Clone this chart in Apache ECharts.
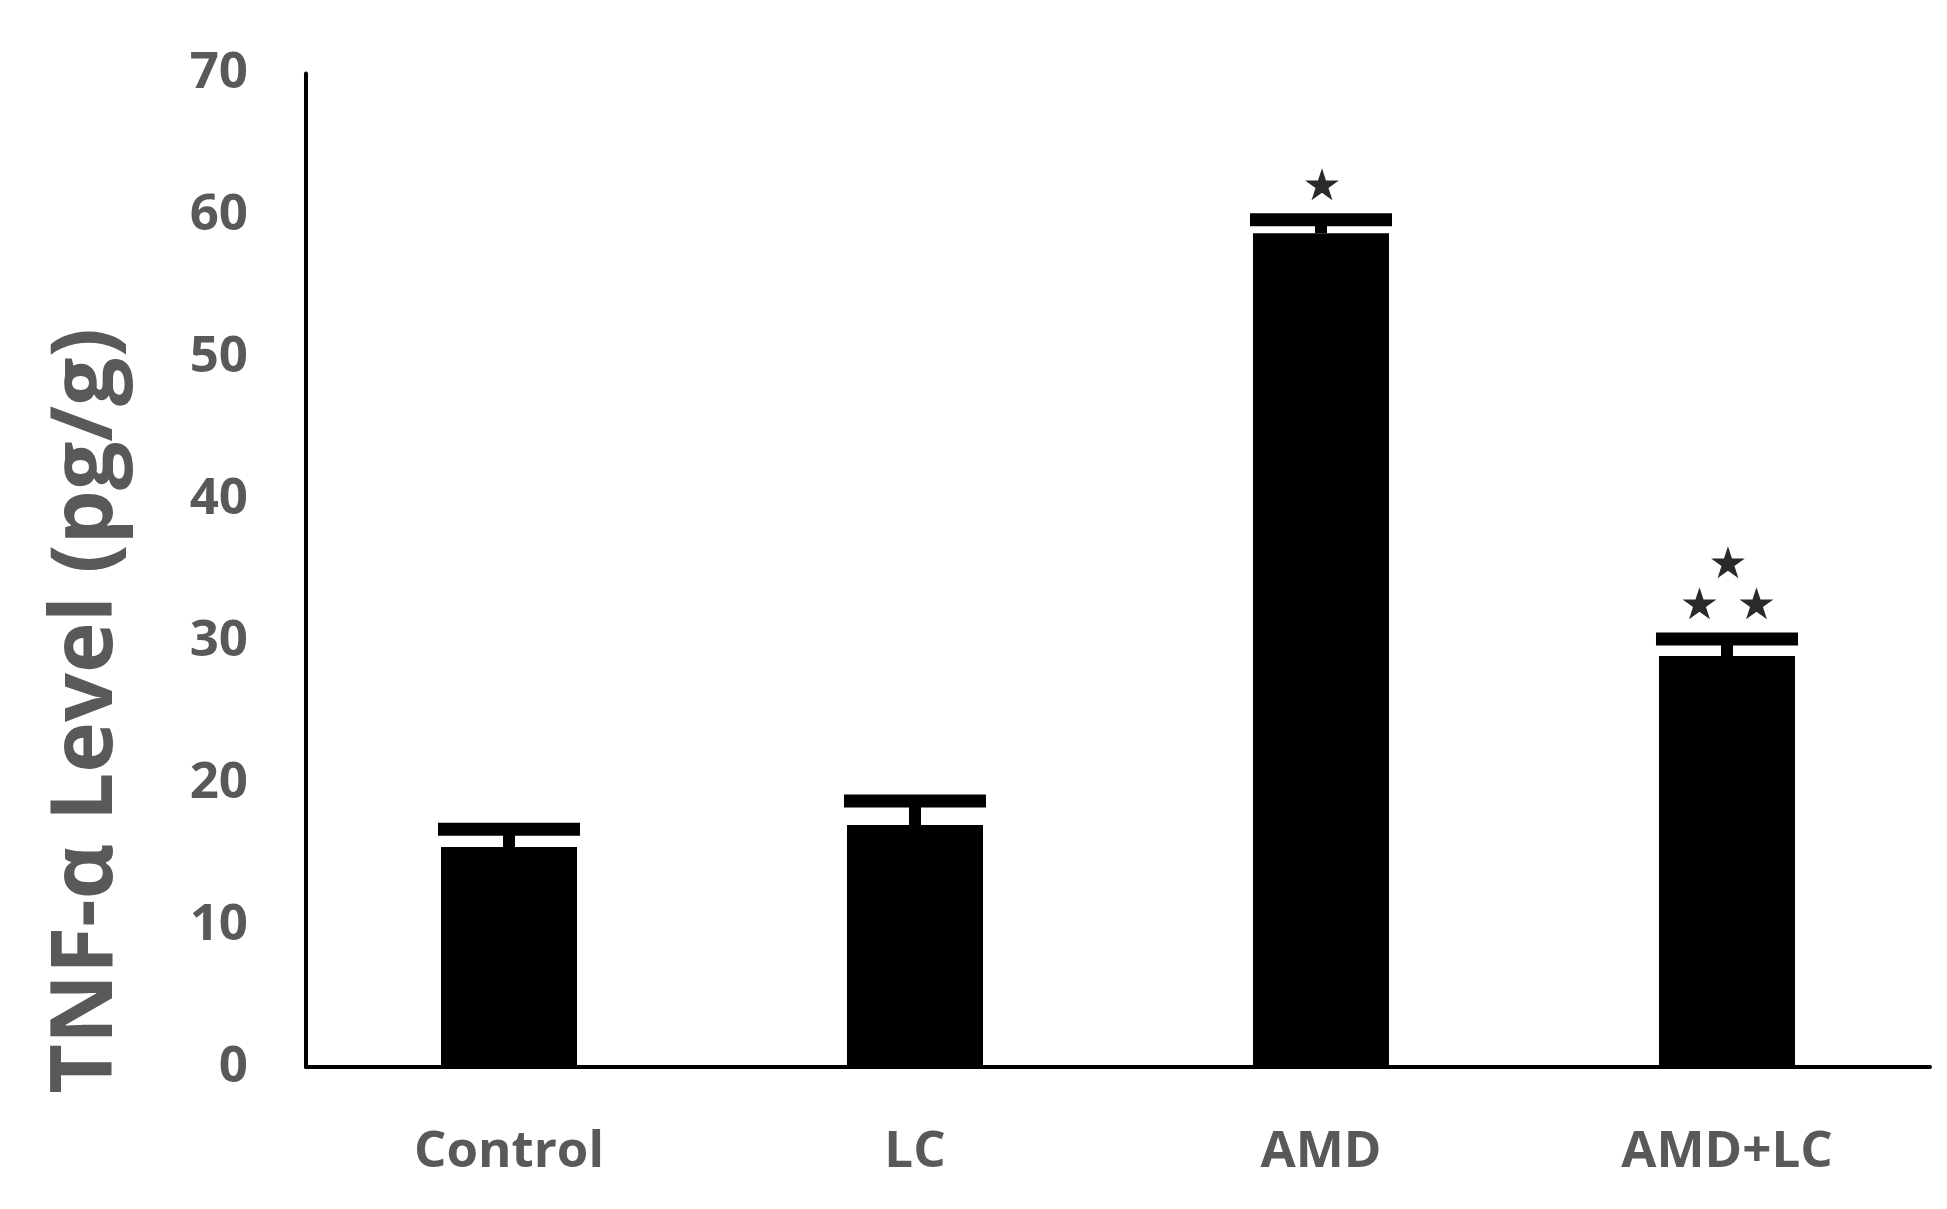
<!DOCTYPE html>
<html>
<head>
<meta charset="utf-8">
<script src="https://cdn.jsdelivr.net/npm/echarts@6/dist/echarts.min.js"></script>
<style>html,body{margin:0;padding:0;background:#fff;}#c{width:1947px;height:1209px;}</style>
</head>
<body>
<div id="c"></div>
<script>
var categories = ['Control', 'LC', 'AMD', 'AMD+LC'];
var values = [15.5, 17.05, 58.75, 28.95];
var errors = [1.25, 1.7, 0.95, 1.2];
// significance stars per group: number of stars per row, bottom row first
var sigRows = [[], [], [1], [2, 1]];
var yTicks = [0, 10, 20, 30, 40, 50, 60, 70];

var chart = echarts.init(document.getElementById('c'), null, {renderer: 'canvas'});
var fontFam = '"Open Sans", "DejaVu Sans", sans-serif';

var errData = categories.map(function (c, i) { return [i, values[i], errors[i], i]; });

chart.setOption({
  animation: false,
  backgroundColor: '#fff',
  grid: {left: 306, right: 17, top: 73.5, bottom: 142, containLabel: false},
  xAxis: {
    type: 'category',
    data: categories,
    axisLine: {show: true, lineStyle: {color: '#000', width: 4}},
    axisTick: {show: false},
    axisLabel: {color: '#595959', fontFamily: fontFam, fontWeight: 'bold', fontSize: 51, margin: 60}
  },
  yAxis: {
    type: 'value',
    min: yTicks[0],
    max: yTicks[yTicks.length - 1],
    interval: 10,
    axisLine: {show: true, lineStyle: {color: '#000', width: 4}},
    axisTick: {show: false},
    splitLine: {show: false},
    axisLabel: {color: '#595959', fontFamily: fontFam, fontWeight: 'bold', fontSize: 51, margin: 58}
  },
  graphic: [{
    type: 'text',
    x: 87, y: 711,
    rotation: Math.PI / 2,
    style: {
      text: 'TNF-α Level (pg/g)',
      fill: '#595959',
      font: 'bold 86px ' + fontFam,
      textAlign: 'center',
      textVerticalAlign: 'middle'
    }
  }],
  series: [{
    type: 'bar',
    data: values,
    barWidth: '33.5%',
    itemStyle: {color: '#000'},
    z: 2
  }, {
    type: 'custom',
    data: errData,
    z: 3,
    renderItem: function (params, api) {
      var i = api.value(0);
      var v = api.value(1);
      var e = api.value(2);
      var base = api.coord([i, v]);
      var top = api.coord([i, v + e]);
      var bw = api.size([1, 0])[0] * 0.335;
      var capH = 13, stemW = 12;
      var children = [
        {type: 'rect', shape: {x: base[0] - stemW / 2, y: top[1], width: stemW, height: base[1] - top[1]}, style: {fill: '#000'}},
        {type: 'rect', shape: {x: base[0] - bw / 2 - 3, y: top[1] - capH / 2, width: bw + 6, height: capH}, style: {fill: '#000'}}
      ];
      var rows = sigRows[api.value(3)];
      var capTop = top[1] - capH / 2;
      for (var r = 0; r < rows.length; r++) {
        var n = rows[r];
        var cy = capTop - 25 - r * 41;
        for (var k = 0; k < n; k++) {
          var cx = base[0] + (k - (n - 1) / 2) * 57 + 1;
          children.push({type: 'text', x: cx, y: cy, style: {text: '★', fill: '#2a2a2a', font: '44px "DejaVu Sans", sans-serif', textAlign: 'center', textVerticalAlign: 'middle'}});
        }
      }
      return {type: 'group', children: children};
    }
  }]
});
</script>
</body>
</html>
